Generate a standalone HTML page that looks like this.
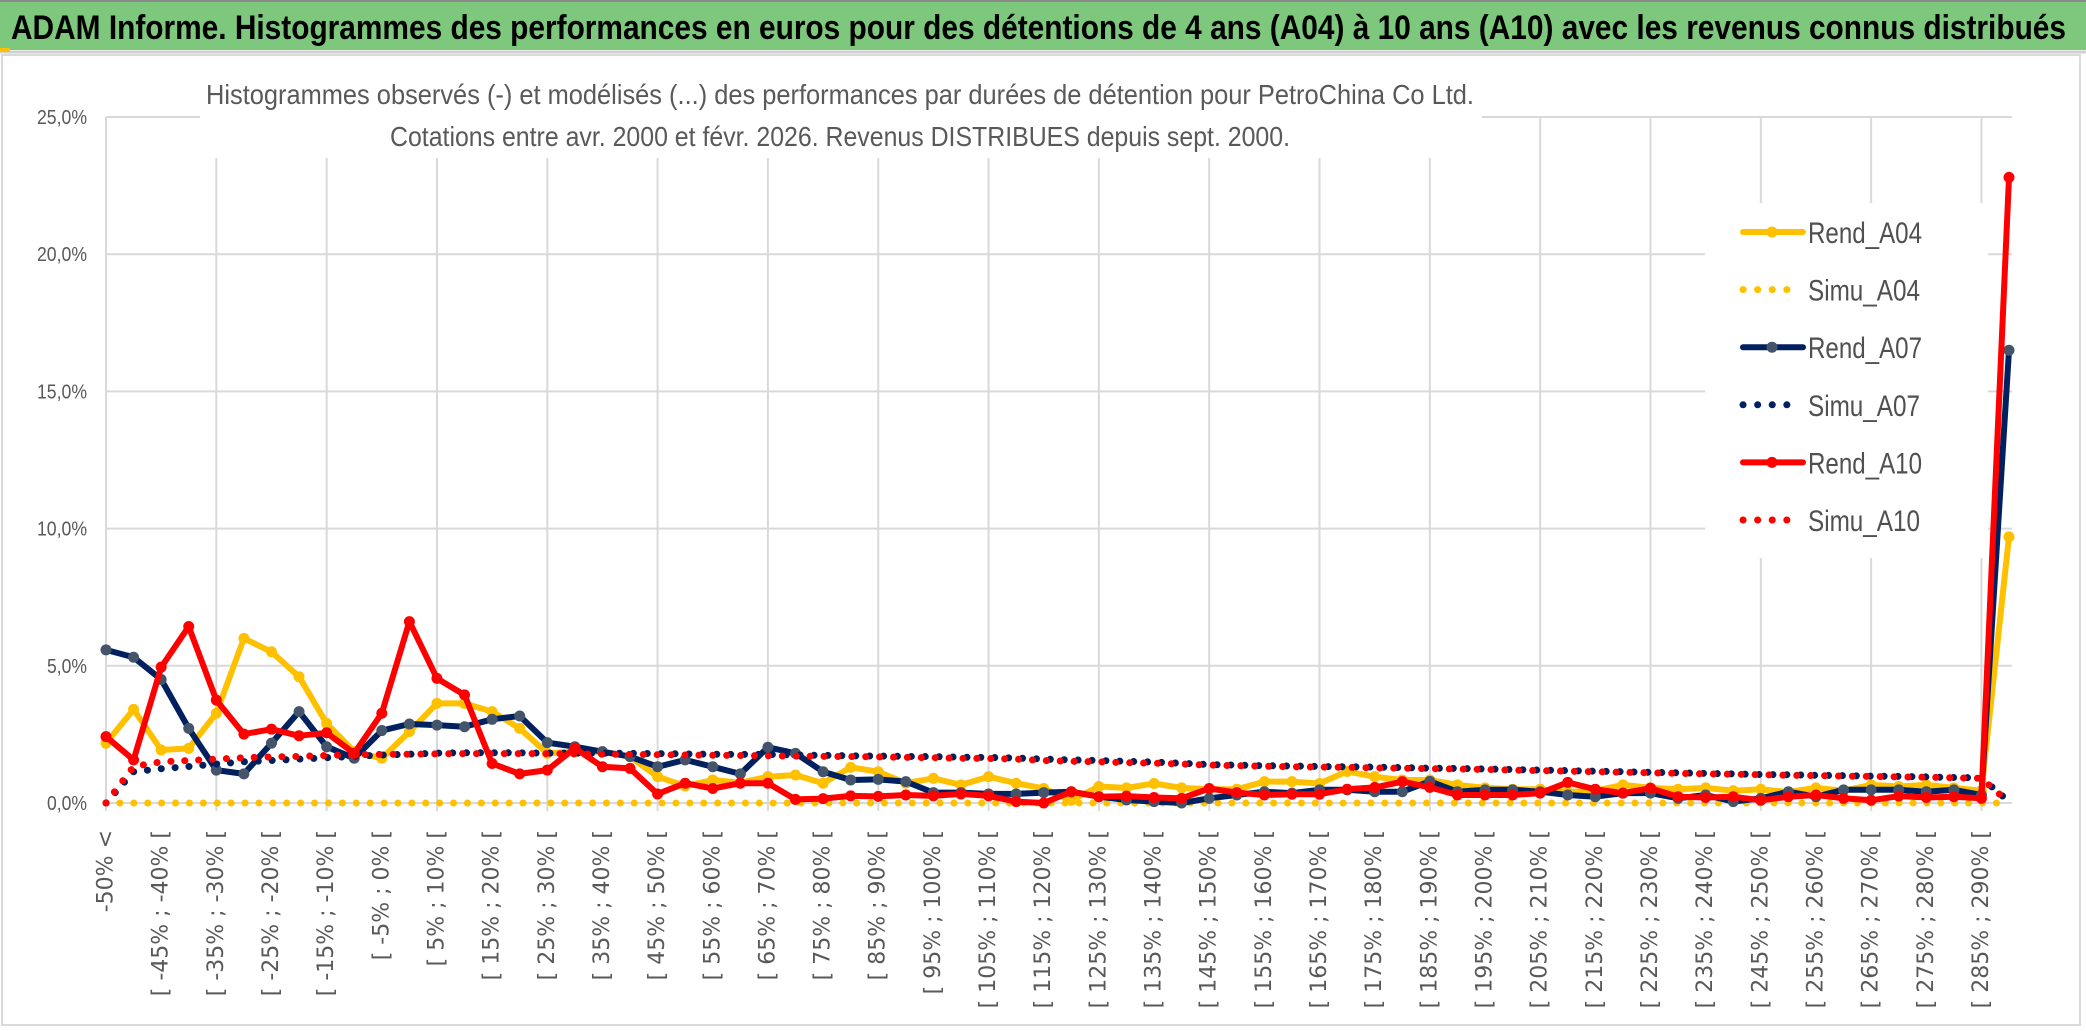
<!DOCTYPE html>
<html><head><meta charset="utf-8">
<style>
html,body{margin:0;padding:0;background:#fff;}
svg{display:block;}
</style></head>
<body>
<svg id="chart" width="2086" height="1031" viewBox="0 0 2086 1031" xmlns="http://www.w3.org/2000/svg">
  <rect x="0" y="0" width="2086" height="1031" fill="#ffffff"/>
  <rect x="2" y="55" width="2078" height="970" fill="#ffffff" stroke="#d9d9d9" stroke-width="2"/>
  <rect x="0" y="1" width="2086" height="49" fill="#7dc87c"/>
  <line x1="0" y1="1" x2="2086" y2="1" stroke="#8a8a8a" stroke-width="2"/>
  <line x1="0" y1="52" x2="2086" y2="52" stroke="#d0d0d0" stroke-width="3"/>
  <rect x="0" y="48" width="10" height="4" fill="#ffc000"/>
  <text x="11" y="39" font-family="Liberation Sans, sans-serif" font-weight="bold" font-size="34" fill="#000" textLength="2055" lengthAdjust="spacingAndGlyphs">ADAM Informe. Histogrammes des performances en euros pour des détentions de 4 ans (A04) à 10 ans (A10) avec les revenus connus distribués</text>
  <g id="grid"></g>
  <g id="yaxis"></g>
  <g id="xaxis"></g>
  <rect x="200" y="70" width="1282" height="88" fill="#ffffff"/>
  <text x="206" y="104" font-family="Liberation Sans, sans-serif" font-size="28" fill="#595959" textLength="1268" lengthAdjust="spacingAndGlyphs">Histogrammes observés (-) et modélisés (...) des performances par durées de détention pour PetroChina Co Ltd.</text>
  <text x="390" y="146" font-family="Liberation Sans, sans-serif" font-size="28" fill="#595959" textLength="900" lengthAdjust="spacingAndGlyphs">Cotations entre avr. 2000 et févr. 2026. Revenus DISTRIBUES depuis sept. 2000.</text>
  <rect x="1705" y="203" width="283" height="355" fill="#ffffff"/>
  <g id="legend"></g>
  <g id="series"></g>
</svg>
<script>
const rendA04 = [2.18,3.41,1.93,1.99,3.27,6.0,5.51,4.6,2.9,1.87,1.63,2.6,3.63,3.63,3.33,2.72,1.81,1.87,1.87,1.69,0.96,0.62,0.84,0.74,0.96,1.02,0.72,1.3,1.14,0.72,0.9,0.66,0.96,0.72,0.53,0.1,0.6,0.55,0.71,0.55,0.5,0.5,0.78,0.78,0.71,1.15,0.96,0.84,0.84,0.66,0.55,0.5,0.5,0.4,0.45,0.66,0.55,0.5,0.55,0.45,0.5,0.4,0.55,0.45,0.66,0.6,0.66,0.55,0.45,9.7];
const simuA04 = [0,0,0,0,0,0,0,0,0,0,0,0,0,0,0,0,0,0,0,0,0,0,0,0,0,0,0,0,0,0,0,0,0,0,0,0,0,0,0,0,0,0,0,0,0,0,0,0,0,0,0,0,0,0,0,0,0,0,0,0,0,0,0,0,0,0,0,0,0,0];
const rendA07 = [5.58,5.31,4.5,2.72,1.2,1.06,2.18,3.33,2.05,1.63,2.64,2.88,2.84,2.78,3.05,3.17,2.2,2.05,1.87,1.69,1.32,1.57,1.32,1.06,2.03,1.81,1.14,0.84,0.86,0.78,0.38,0.38,0.33,0.33,0.38,0.41,0.23,0.11,0.05,0.0,0.17,0.29,0.41,0.36,0.48,0.48,0.41,0.41,0.79,0.41,0.48,0.48,0.41,0.29,0.23,0.36,0.36,0.17,0.29,0.05,0.17,0.41,0.23,0.48,0.48,0.48,0.41,0.48,0.29,16.5];
const simuA07 = [0,1.14,1.25,1.33,1.42,1.5,1.55,1.6,1.65,1.7,1.75,1.78,1.82,1.83,1.83,1.83,1.82,1.82,1.82,1.81,1.8,1.79,1.78,1.77,1.77,1.75,1.74,1.72,1.71,1.7,1.69,1.67,1.66,1.64,1.6,1.57,1.55,1.52,1.49,1.45,1.4,1.38,1.36,1.35,1.33,1.32,1.31,1.29,1.27,1.26,1.24,1.22,1.2,1.18,1.16,1.14,1.12,1.1,1.08,1.06,1.04,1.03,1.01,1.0,0.98,0.97,0.95,0.93,0.92,0.05];
const rendA10 = [2.42,1.57,4.95,6.43,3.75,2.51,2.69,2.45,2.56,1.81,3.27,6.61,4.54,3.94,1.44,1.06,1.2,2.0,1.32,1.26,0.33,0.72,0.53,0.72,0.72,0.13,0.16,0.26,0.24,0.29,0.26,0.33,0.26,0.05,0.0,0.41,0.23,0.25,0.2,0.17,0.53,0.38,0.29,0.32,0.32,0.5,0.57,0.78,0.57,0.29,0.29,0.29,0.36,0.75,0.5,0.36,0.54,0.23,0.2,0.23,0.1,0.23,0.29,0.17,0.1,0.25,0.2,0.23,0.17,22.8];
const simuA10 = [0,1.33,1.5,1.55,1.6,1.65,1.68,1.7,1.73,1.76,1.77,1.78,1.79,1.8,1.8,1.8,1.8,1.79,1.78,1.77,1.76,1.75,1.74,1.73,1.72,1.71,1.7,1.69,1.68,1.66,1.65,1.63,1.62,1.6,1.55,1.52,1.5,1.47,1.45,1.42,1.38,1.36,1.34,1.32,1.31,1.3,1.28,1.27,1.25,1.24,1.22,1.2,1.18,1.16,1.14,1.12,1.1,1.08,1.06,1.05,1.03,1.01,1.0,0.98,0.97,0.95,0.94,0.92,0.9,0.02];
const yTicks = [0,5,10,15,20,25];
const yTickLabels = ["0,0%","5,0%","10,0%","15,0%","20,0%","25,0%"];
const categories = ["-50% <"];
for (let k = 1; k < 70; k++) { categories.push("[ " + (-55 + 5 * k) + "% ; " + (-50 + 5 * k) + "% ["); }

const NS = "http://www.w3.org/2000/svg";
const X0 = 106, DX = 27.58, Y0 = 803, PX_PER = 27.44, XR = 2012;
function xPos(i) { return X0 + DX * i; }
function yPos(v) { return Y0 - v * PX_PER; }
function mk(tag, attrs, parent) {
  const e = document.createElementNS(NS, tag);
  for (const k in attrs) e.setAttribute(k, attrs[k]);
  parent.appendChild(e);
  return e;
}
const grid = document.getElementById('grid');
const yaxis = document.getElementById('yaxis');
const xaxis = document.getElementById('xaxis');
yTicks.forEach((t, i) => {
  const l = mk('line', {x1: X0, x2: XR, y1: yPos(t), y2: yPos(t), stroke: '#d9d9d9', 'stroke-width': 2}, grid);
  
  
  const lbl = yTickLabels[i];
  const tx = mk('text', {x: 87, y: yPos(t) + 7, 'text-anchor': 'end', 'font-family': 'Liberation Sans, sans-serif', 'font-size': 20, fill: '#595959', textLength: lbl.length * 10, lengthAdjust: 'spacingAndGlyphs'}, yaxis);
  tx.textContent = lbl;
  
  
});
categories.forEach((c, i) => {
  if (i % 4 === 0) {
    const g = mk('line', {x1: xPos(i), x2: xPos(i), y1: yPos(25), y2: Y0 + 8, stroke: '#d9d9d9', 'stroke-width': 2}, grid);
    
    
  }
  if (i % 2 === 0) {
    const x = xPos(i), y = 830;
    const t = mk('text', {x: x, y: y, transform: 'rotate(-90 ' + x + ' ' + y + ')', 'text-anchor': 'end', 'dominant-baseline': 'central', 'font-family': 'DejaVu Sans, sans-serif', 'font-size': 22, fill: '#595959'}, xaxis);
    t.textContent = c;
    
    
  }
});

const seriesDefs = [
  {name: 'Rend_A04', data: rendA04, color: '#ffc000', marker: '#ffc000', dotted: false},
  {name: 'Simu_A04', data: simuA04, color: '#ffc000', dotted: true},
  {name: 'Rend_A07', data: rendA07, color: '#002060', marker: '#44546a', dotted: false},
  {name: 'Simu_A07', data: simuA07, color: '#002060', dotted: true},
  {name: 'Rend_A10', data: rendA10, color: '#ff0000', marker: '#ff0000', dotted: false},
  {name: 'Simu_A10', data: simuA10, color: '#ff0000', dotted: true}
];
const sg = document.getElementById('series');
const lg = document.getElementById('legend');
seriesDefs.forEach((s, si) => {
  const g = mk('g', {}, sg);
  
  
  const pts = s.data.map((v, i) => xPos(i).toFixed(1) + ',' + yPos(v).toFixed(1)).join(' ');
  const attrs = {points: pts, fill: 'none', stroke: s.color, 'stroke-width': 6, 'stroke-linejoin': 'round', 'stroke-linecap': 'round'};
  if (s.dotted) { attrs['stroke-dasharray'] = '0.1 13.8'; attrs['stroke-width'] = 7; }
  const pl = mk('polyline', attrs, g);
  
  
  if (!s.dotted) {
    s.data.forEach((v, i) => {
      const c = mk('circle', {cx: xPos(i), cy: yPos(v), r: 5.5, fill: s.marker}, g);
      
      
    });
  }
  const ly = 232 + si * 57.6;
  const le = mk('g', {}, lg);
  
  
  const la = {x1: 1743, x2: 1803, y1: ly, y2: ly, stroke: s.color, 'stroke-width': 6, 'stroke-linecap': 'round'};
  if (s.dotted) { la['stroke-dasharray'] = '0.1 14.5'; la['stroke-width'] = 7; la.x2 = 1800; }
  const ll = mk('line', la, le);
  
  
  if (!s.dotted) {
    const lc = mk('circle', {cx: 1772, cy: ly, r: 5.5, fill: s.marker}, le);
    
    
  }
  const lt = mk('text', {x: 1808, y: ly + 11, 'font-family': 'Liberation Sans, sans-serif', 'font-size': 30, fill: '#505050', textLength: s.name.startsWith('Rend') ? 114 : 112, lengthAdjust: 'spacingAndGlyphs'}, le);
  lt.textContent = s.name;
  
  
});
</script>
</body></html>
